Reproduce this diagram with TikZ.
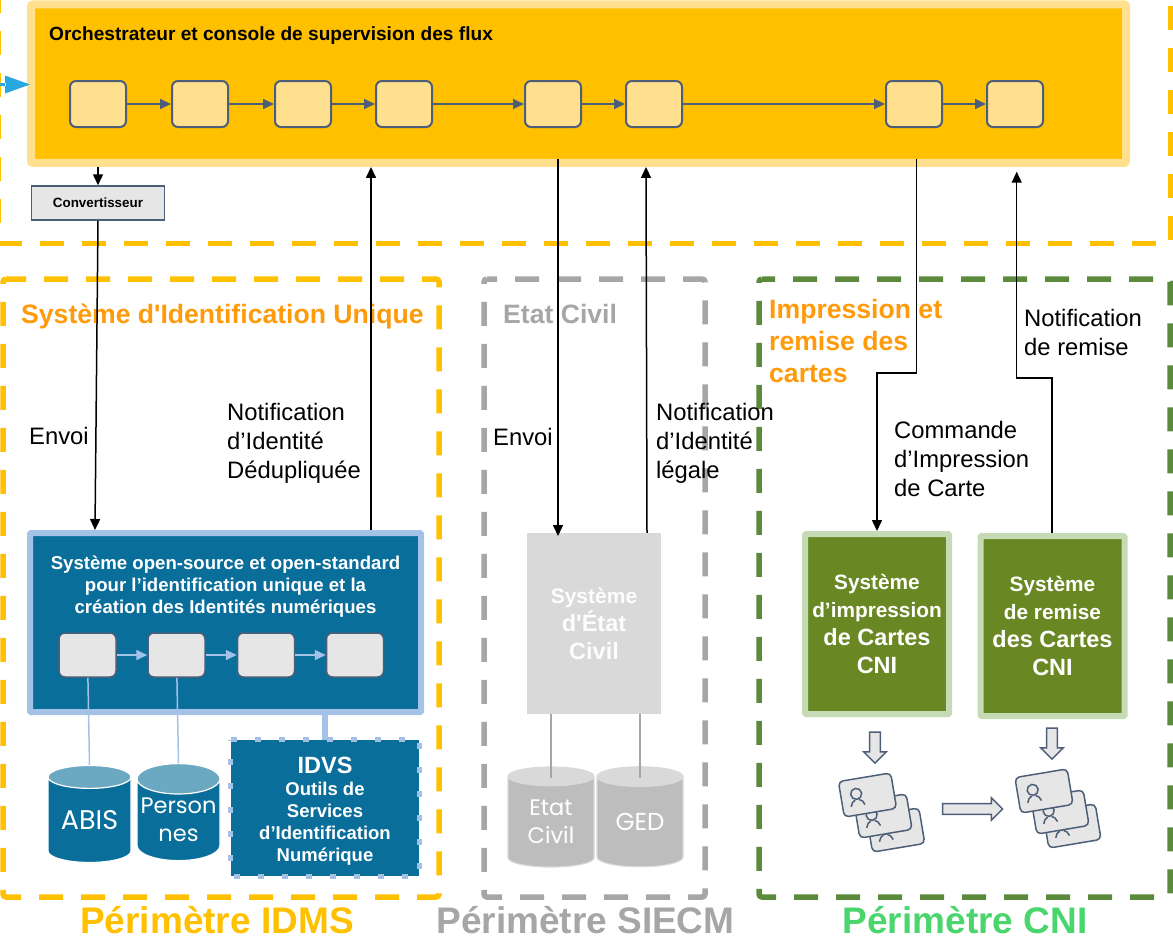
\documentclass[tikz,border=0pt]{standalone}
\usepackage{fontspec}
\setmainfont{Liberation Sans}
\newfontfamily\basefont{Poppins}
\usetikzlibrary{arrows.meta}
\usetikzlibrary{shapes.geometric}
\usetikzlibrary{shapes.arrows}

\definecolor{jaune}{HTML}{FFC000}
\definecolor{jauneclair}{HTML}{FFE08F}
\definecolor{ardoise}{HTML}{4D5F78}
\definecolor{bleufonce}{HTML}{0A6E9B}
\definecolor{bleuclair}{HTML}{A4C2E8}
\definecolor{bleutop}{HTML}{6BA8C2}
\definecolor{bleuentree}{HTML}{29A8E0}
\definecolor{gris}{HTML}{A6A6A6}
\definecolor{grisbase}{HTML}{BDBDBD}
\definecolor{grisclair}{HTML}{D9D9D9}
\definecolor{grisfond}{HTML}{E6E6E6}
\definecolor{vert}{HTML}{5B8A3C}
\definecolor{vertfonce}{HTML}{698824}
\definecolor{vertclair}{HTML}{C5DAB5}
\definecolor{vertcni}{HTML}{4AD66D}
\definecolor{orange}{HTML}{FF9A0A}

\newcommand{\fz}[2]{\fontsize{#1}{#2}\selectfont}

\tikzset{
    perimetre/.style={line width=5.5pt, dash pattern=on 24pt off 18pt, rounded corners=3pt},
    flux/.style={line width=1.5pt, -{Triangle[length=11pt,width=10pt]}},
    fil/.style={line width=1.5pt},
    lien/.style={line width=1.8pt, ardoise, -{Triangle[length=11pt,width=10pt]}},
    lienclair/.style={line width=1.5pt, bleuclair, -{Triangle[length=11pt,width=10pt]}},
    etape/.style={draw=ardoise, line width=2pt, fill=jauneclair, rounded corners=6pt, minimum width=56pt, minimum height=46pt},
    etapeid/.style={draw=ardoise, line width=1.5pt, fill=grisfond, rounded corners=6pt, minimum width=57pt, minimum height=44pt},
    note/.style={align=left, anchor=west, inner sep=0pt, font=\fz{23.8}{29}},
    titre/.style={align=left, anchor=west, inner sep=0pt, font=\fz{26.6}{32}\bfseries, orange},
    perim/.style={inner sep=0pt, font=\fz{37}{40}\bfseries},
    sysvert/.style={draw=vertclair, line width=6pt, fill=vertfonce, rounded corners=1pt, text=white, align=center, inner sep=0pt, minimum width=144pt, minimum height=180pt},
    base/.style={cylinder, shape border rotate=90, cylinder uses custom fill, shape aspect=0.4, inner sep=0pt, align=center, text=white, font=\basefont\fz{22.5}{28}},
    basebleu/.style={base, draw=white, line width=1.2pt, cylinder body fill=bleufonce, cylinder end fill=bleutop, minimum width=83pt, minimum height=97pt},
    basegris/.style={base, draw=grisclair, line width=1.2pt, cylinder body fill=grisbase, cylinder end fill=grisclair, minimum width=86pt, minimum height=100pt},
    fleche/.style={single arrow, draw=ardoise, line width=1.5pt, fill=grisfond, inner xsep=0pt, inner ysep=4.2pt, single arrow head extend=5.6pt, single arrow tip angle=90, minimum width=22.5pt},
    carte/.style={draw=ardoise, line width=1.5pt, fill=grisfond, rounded corners=4.5pt, minimum width=53pt, minimum height=36pt, inner sep=0pt},
    pics/carteid/.style={code={
        \node[carte, rotate=9.5] (-fond) {};
        \begin{scope}[rotate=9.5]
            \draw[ardoise, line width=1.5pt] (-11,-3) circle (5.5pt);
            \draw[ardoise, line width=1.5pt] (-18,9) -- (-16,5) -- (-13,3) (-4,9) -- (-6,5) -- (-9,3);
        \end{scope}
    }},
}

\begin{document}
\begin{tikzpicture}[x=1pt, y=-1pt]
    \useasboundingbox (0,0) rectangle (1173,938);

    \draw[perimetre, jaune, line width=6pt] (-2,-11) -- (-2,225);
    \draw[perimetre, jaune, line width=6pt] (1170.5,6) -- (1170.5,240);
    \draw[perimetre, jaune] (-2,243.7) -- (1156,243.7);

    \draw[perimetre, jaune, dash phase=4pt] (3,279) -- (439,279) -- (439,897) -- (3,897) -- cycle;
    \draw[perimetre, gris, dash phase=14pt] (484,279) -- (705,279) -- (705,897) -- (484,897) -- cycle;
    \draw[perimetre, vert, dash phase=11pt] (759,279) -- (1170,279) -- (1170,897) -- (759,897) -- cycle;

    \node[titre] (tid) at (21,316.5) {Système d\textquotesingle Identification Unique};
    \node[titre, gris] (tec) at (503,314) {Etat Civil};
    \node[titre] (tcni) at (769,341) {Impression et\\remise des\\cartes};

    \node[draw=jauneclair, line width=8pt, fill=jaune, rounded corners=2pt, minimum width=1095pt, minimum height=158.5pt, inner sep=0pt] (orch) at (578.5,83.7) {};
    \node[align=left, anchor=west, inner sep=0pt, font=\fz{19.1}{22}\bfseries] (torch) at (49,36) {Orchestrateur et console de supervision des flux};
    \foreach \i/\x in {1/98,2/200,3/303,4/404,5/553,6/654,7/914,8/1015}
        \node[etape] (e\i) at (\x,104) {};
    \foreach \a/\b in {1/2,2/3,3/4,4/5,5/6,6/7,7/8}
        \draw[lien] (e\a) -- (e\b);

    \fill[bleuentree] (0,83) rectangle (6,86) (5,75.5) -- (30,84.5) -- (5,93.5) -- cycle;

    \node[draw=ardoise, line width=1.5pt, fill=grisfond, minimum width=133pt, minimum height=34pt, inner sep=0pt, font=\fz{13.4}{16}\bfseries] (conv) at (98,203) {Convertisseur};

    \node[draw=bleuclair, line width=6pt, fill=bleufonce, rounded corners=1pt, minimum width=391pt, minimum height=179pt, inner sep=0pt] (sysid) at (225.5,622.5) {};
    \node[align=center, inner sep=0pt, text=white, font=\fz{18.6}{22}\bfseries] (tsysid) at (225.5,587) {Système open-source et open-standard\\pour l’identification unique et la\\création des Identités numériques};
    \foreach \i/\x in {1/87.5,2/176.5,3/266,4/355}
        \node[etapeid] (s\i) at (\x,655) {};
    \foreach \a/\b in {1/2,2/3,3/4}
        \draw[lienclair] (s\a) -- (s\b);

    \node[basebleu, font=\basefont\fz{27}{28}] (abis) at (89.5,820) {ABIS};
    \node[basebleu] (pers) at (178.5,820) {Person\\nes};
    \draw[fil, bleuclair] (s1) -- (abis.north);
    \draw[fil, bleuclair] (s2) -- (pers.north);

    \node[fill=bleufonce, minimum width=188pt, minimum height=136pt, inner sep=0pt] (idvs) at (325,808) {};
    \draw[bleuclair, line width=5pt, dash pattern=on 6pt off 18pt] (idvs.north west) -- (idvs.north east) -- (idvs.south east) -- (idvs.south west) -- cycle;
    \draw[bleuclair, line width=6pt] (sysid.south -| idvs.north) -- (idvs.north);
    \node[align=center, inner sep=0pt, text=white, font=\fz{18.5}{22}\bfseries] (tidvs) at (325,811.5) {{\fz{23.5}{26}\bfseries IDVS}\\Outils de\\Services\\d’Identification\\Numérique};

    \node[fill=grisclair, minimum width=134pt, minimum height=181pt, inner sep=0pt] (sysec) at (594,623.5) {};
    \node[align=center, inner sep=0pt, text=white!95!grisclair, font=\fz{23.5}{28}\bfseries] (tsysec) at (594,624) {{\fz{21}{28}\bfseries Système}\\d\textquotesingle État\\Civil};
    \node[basegris] (etat) at (551,822) {Etat\\Civil};
    \node[basegris, font=\basefont\fz{24.5}{28}] (ged) at (640,822) {GED};
    \draw[fil, gris] (sysec.south -| etat.north) -- ([yshift=-12pt]etat.north);
    \draw[fil, gris] (sysec.south -| ged.north) -- ([yshift=-12pt]ged.north);

    \node[sysvert] (impr) at (877,624) {};
    \node[align=center, inner sep=0pt, text=white, font=\fz{23.5}{28}\bfseries] (timpr) at (877,623.5) {{\fz{20.8}{26}\bfseries Système}\\{\fz{20.8}{26}\bfseries d’impression}\\de Cartes\\CNI};
    \node[sysvert] (rem) at (1052.5,626) {};
    \node[align=center, inner sep=0pt, text=white, font=\fz{23.5}{28}\bfseries] (trem) at (1052.5,625.5) {{\fz{20.8}{26}\bfseries Système}\\{\fz{20.8}{26}\bfseries de remise}\\des Cartes\\CNI};

    \node[fleche, rotate=-90, minimum height=31pt] (fl1) at (875,745) {};
    \node[fleche, rotate=-90, minimum height=31pt] (fl2) at (1052,741) {};
    \node[fleche, minimum height=60pt] (fl3) at (970,809) {};

    \pic (c3) at (895.7,830) {carteid};
    \pic (c2) at (883,816) {carteid};
    \pic (c1) at (867.5,795) {carteid};
    \pic (d3) at (1072,826) {carteid};
    \pic (d2) at (1060,812) {carteid};
    \pic (d1) at (1044,791) {carteid};

    \draw[flux] (conv.north |- orch.south) -- (conv.north);
    \draw[flux] (conv.south) -- (sysid.north -| 95,0);
    \draw[flux] (sysid.north -| 371,0) -- (orch.south -| 371,0);
    \coordinate (sortieec) at (558,159);
    \coordinate (entreeec) at (558,536);
    \draw[flux] (sortieec) -- (entreeec);
    \draw[flux] (sysec.north -| 647,0) -- (orch.south -| 646,0);
    \coordinate (sortiecmd) at (916.7,159);
    \draw[flux] (sortiecmd) |- (877,373) -- (impr.north -| 877,0);
    \coordinate (retour) at (1016.7,171.7);
    \draw[flux] (rem.north -| 1052,0) |- (1016.7,378) -- (retour);

    \node[note] (n1) at (29,436) {Envoi};
    \node[note] (n2) at (227,443) {Notification\\d’Identité\\Dédupliquée};
    \node[note] (n3) at (493,437) {Envoi};
    \node[note] (n4) at (656,443) {Notification\\d’Identité\\légale};
    \node[note] (n5) at (894,459) {Commande\\d’Impression\\de Carte};
    \node[note] (n6) at (1024,332.5) {Notification\\de remise};

    \node[perim, jaune] (p1) at (217,920) {Périmètre IDMS};
    \node[perim, gris] (p2) at (585.5,920) {Périmètre SIECM};
    \node[perim, vertcni] (p3) at (965,920) {Périmètre CNI};
\end{tikzpicture}
\end{document}
